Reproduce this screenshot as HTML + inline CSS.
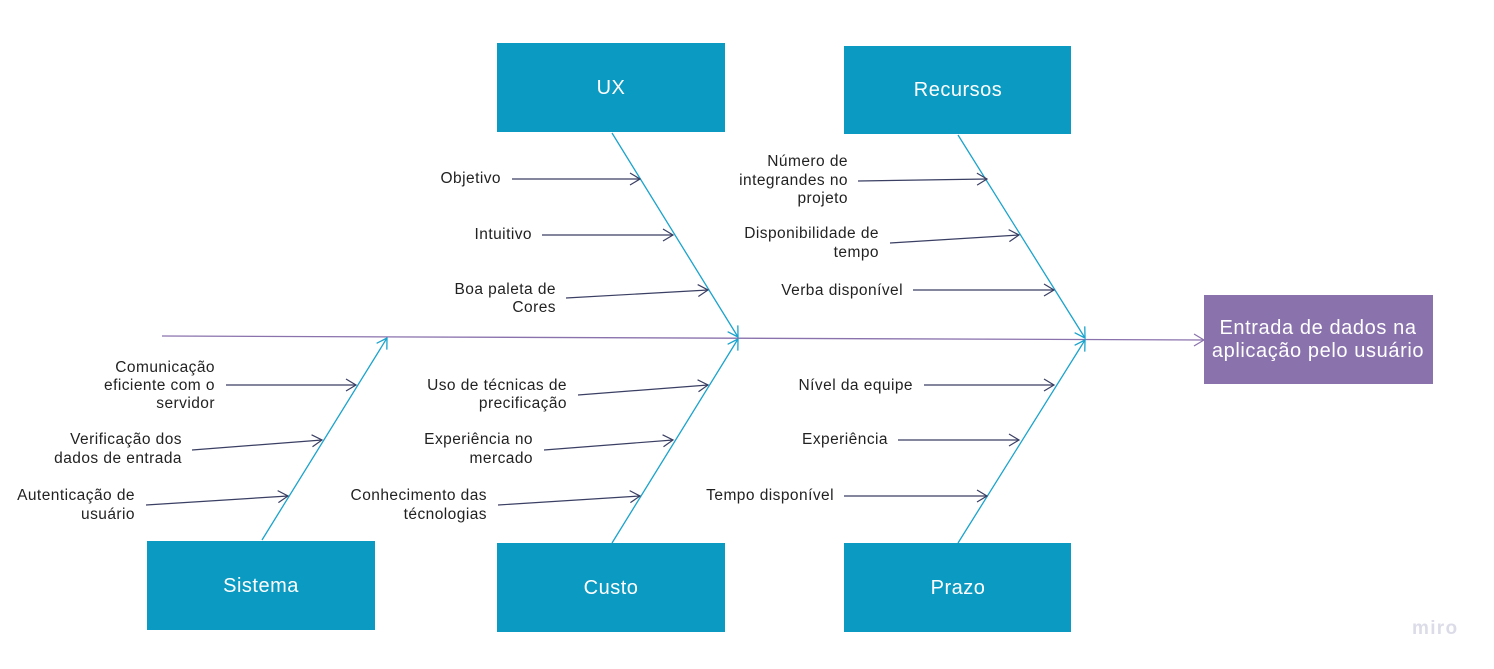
<!DOCTYPE html>
<html><head><meta charset="utf-8"><style>
html,body{margin:0;padding:0;background:#fff;}
svg{display:block;}
text{font-family:"Liberation Sans",sans-serif;}
.l{font-size:15.5px;fill:#222;text-anchor:end;letter-spacing:0.45px;}
.b{font-size:20px;fill:#fff;text-anchor:middle;letter-spacing:0.5px;}
</style></head><body>
<svg width="1494" height="669" viewBox="0 0 1494 669" xmlns="http://www.w3.org/2000/svg">
<defs>
<marker id="ad" markerWidth="14" markerHeight="14" refX="12" refY="7" orient="auto" markerUnits="userSpaceOnUse"><path d="M2,1 L12,7 L2,13" fill="none" stroke="#3a3f63" stroke-width="1.2"/></marker>
<marker id="ab" markerWidth="14" markerHeight="14" refX="12" refY="7" orient="auto" markerUnits="userSpaceOnUse"><path d="M2,1 L12,7 L2,13" fill="none" stroke="#1aa3cc" stroke-width="1.3"/></marker>
<marker id="ap" markerWidth="14" markerHeight="14" refX="12" refY="7" orient="auto" markerUnits="userSpaceOnUse"><path d="M2,1 L12,7 L2,13" fill="none" stroke="#8a72ad" stroke-width="1.2"/></marker>
</defs>
<line x1="162" y1="336" x2="1204" y2="340" stroke="#8a72ad" stroke-width="1.3" marker-end="url(#ap)"/>
<g stroke="#1aa3cc" stroke-width="1.3" fill="none">
<line x1="612" y1="133" x2="738" y2="337" marker-end="url(#ab)"/>
<line x1="958" y1="135" x2="1085" y2="338" marker-end="url(#ab)"/>
<line x1="262" y1="540" x2="387" y2="338" marker-end="url(#ab)"/>
<line x1="612" y1="543" x2="738" y2="339" marker-end="url(#ab)"/>
<line x1="958" y1="543" x2="1085" y2="340" marker-end="url(#ab)"/>
</g>
<g stroke="#3a3f63" stroke-width="1.2" fill="none" marker-end="url(#ad)">
<line x1="512" y1="179" x2="640" y2="179"/>
<line x1="542" y1="235" x2="673" y2="235"/>
<line x1="566" y1="298" x2="708" y2="290"/>
<line x1="858" y1="181" x2="987" y2="179"/>
<line x1="890" y1="243" x2="1019" y2="235"/>
<line x1="913" y1="290" x2="1054" y2="290"/>
<line x1="226" y1="385" x2="356" y2="385"/>
<line x1="192" y1="450" x2="322" y2="440"/>
<line x1="146" y1="505" x2="288" y2="496"/>
<line x1="578" y1="395" x2="708" y2="385"/>
<line x1="544" y1="450" x2="673" y2="440"/>
<line x1="498" y1="505" x2="640" y2="496"/>
<line x1="924" y1="385" x2="1054" y2="385"/>
<line x1="898" y1="440" x2="1019" y2="440"/>
<line x1="844" y1="496" x2="987" y2="496"/>
</g>
<g fill="#0b9bc2">
<rect x="497" y="43" width="228" height="89"/>
<rect x="844" y="46" width="227" height="88"/>
<rect x="147" y="541" width="228" height="89"/>
<rect x="497" y="543" width="228" height="89"/>
<rect x="844" y="543" width="227" height="89"/>
</g>
<rect x="1204" y="295" width="229" height="89" fill="#8a72ad"/>
<text class="b" x="611" y="94">UX</text>
<text class="b" x="958" y="96">Recursos</text>
<text class="b" x="261" y="592">Sistema</text>
<text class="b" x="611" y="594">Custo</text>
<text class="b" x="958" y="594">Prazo</text>
<text class="b" x="1318" y="334" style="letter-spacing:0.6px">Entrada de dados na</text>
<text class="b" x="1318" y="357" style="letter-spacing:0.6px">aplicação pelo usuário</text>
<text class="l" x="501" y="183">Objetivo</text>
<text class="l" x="532" y="239">Intuitivo</text>
<text class="l" x="556" y="294">Boa paleta de</text>
<text class="l" x="556" y="312">Cores</text>
<text class="l" x="848" y="166">Número de</text>
<text class="l" x="848" y="185">integrandes no</text>
<text class="l" x="848" y="203">projeto</text>
<text class="l" x="879" y="238">Disponibilidade de</text>
<text class="l" x="879" y="257">tempo</text>
<text class="l" x="903" y="295">Verba disponível</text>
<text class="l" x="215" y="372">Comunicação</text>
<text class="l" x="215" y="390">eficiente com o</text>
<text class="l" x="215" y="408">servidor</text>
<text class="l" x="182" y="444">Verificação dos</text>
<text class="l" x="182" y="463">dados de entrada</text>
<text class="l" x="135" y="500">Autenticação de</text>
<text class="l" x="135" y="519">usuário</text>
<text class="l" x="567" y="390">Uso de técnicas de</text>
<text class="l" x="567" y="408">precificação</text>
<text class="l" x="533" y="444">Experiência no</text>
<text class="l" x="533" y="463">mercado</text>
<text class="l" x="487" y="500">Conhecimento das</text>
<text class="l" x="487" y="519">técnologias</text>
<text class="l" x="913" y="390">Nível da equipe</text>
<text class="l" x="888" y="444">Experiência</text>
<text class="l" x="834" y="500">Tempo disponível</text>
<text x="1412" y="634" style="font-size:19px;fill:#dcdce8;font-weight:bold;letter-spacing:1.3px">miro</text>
</svg>
</body></html>
